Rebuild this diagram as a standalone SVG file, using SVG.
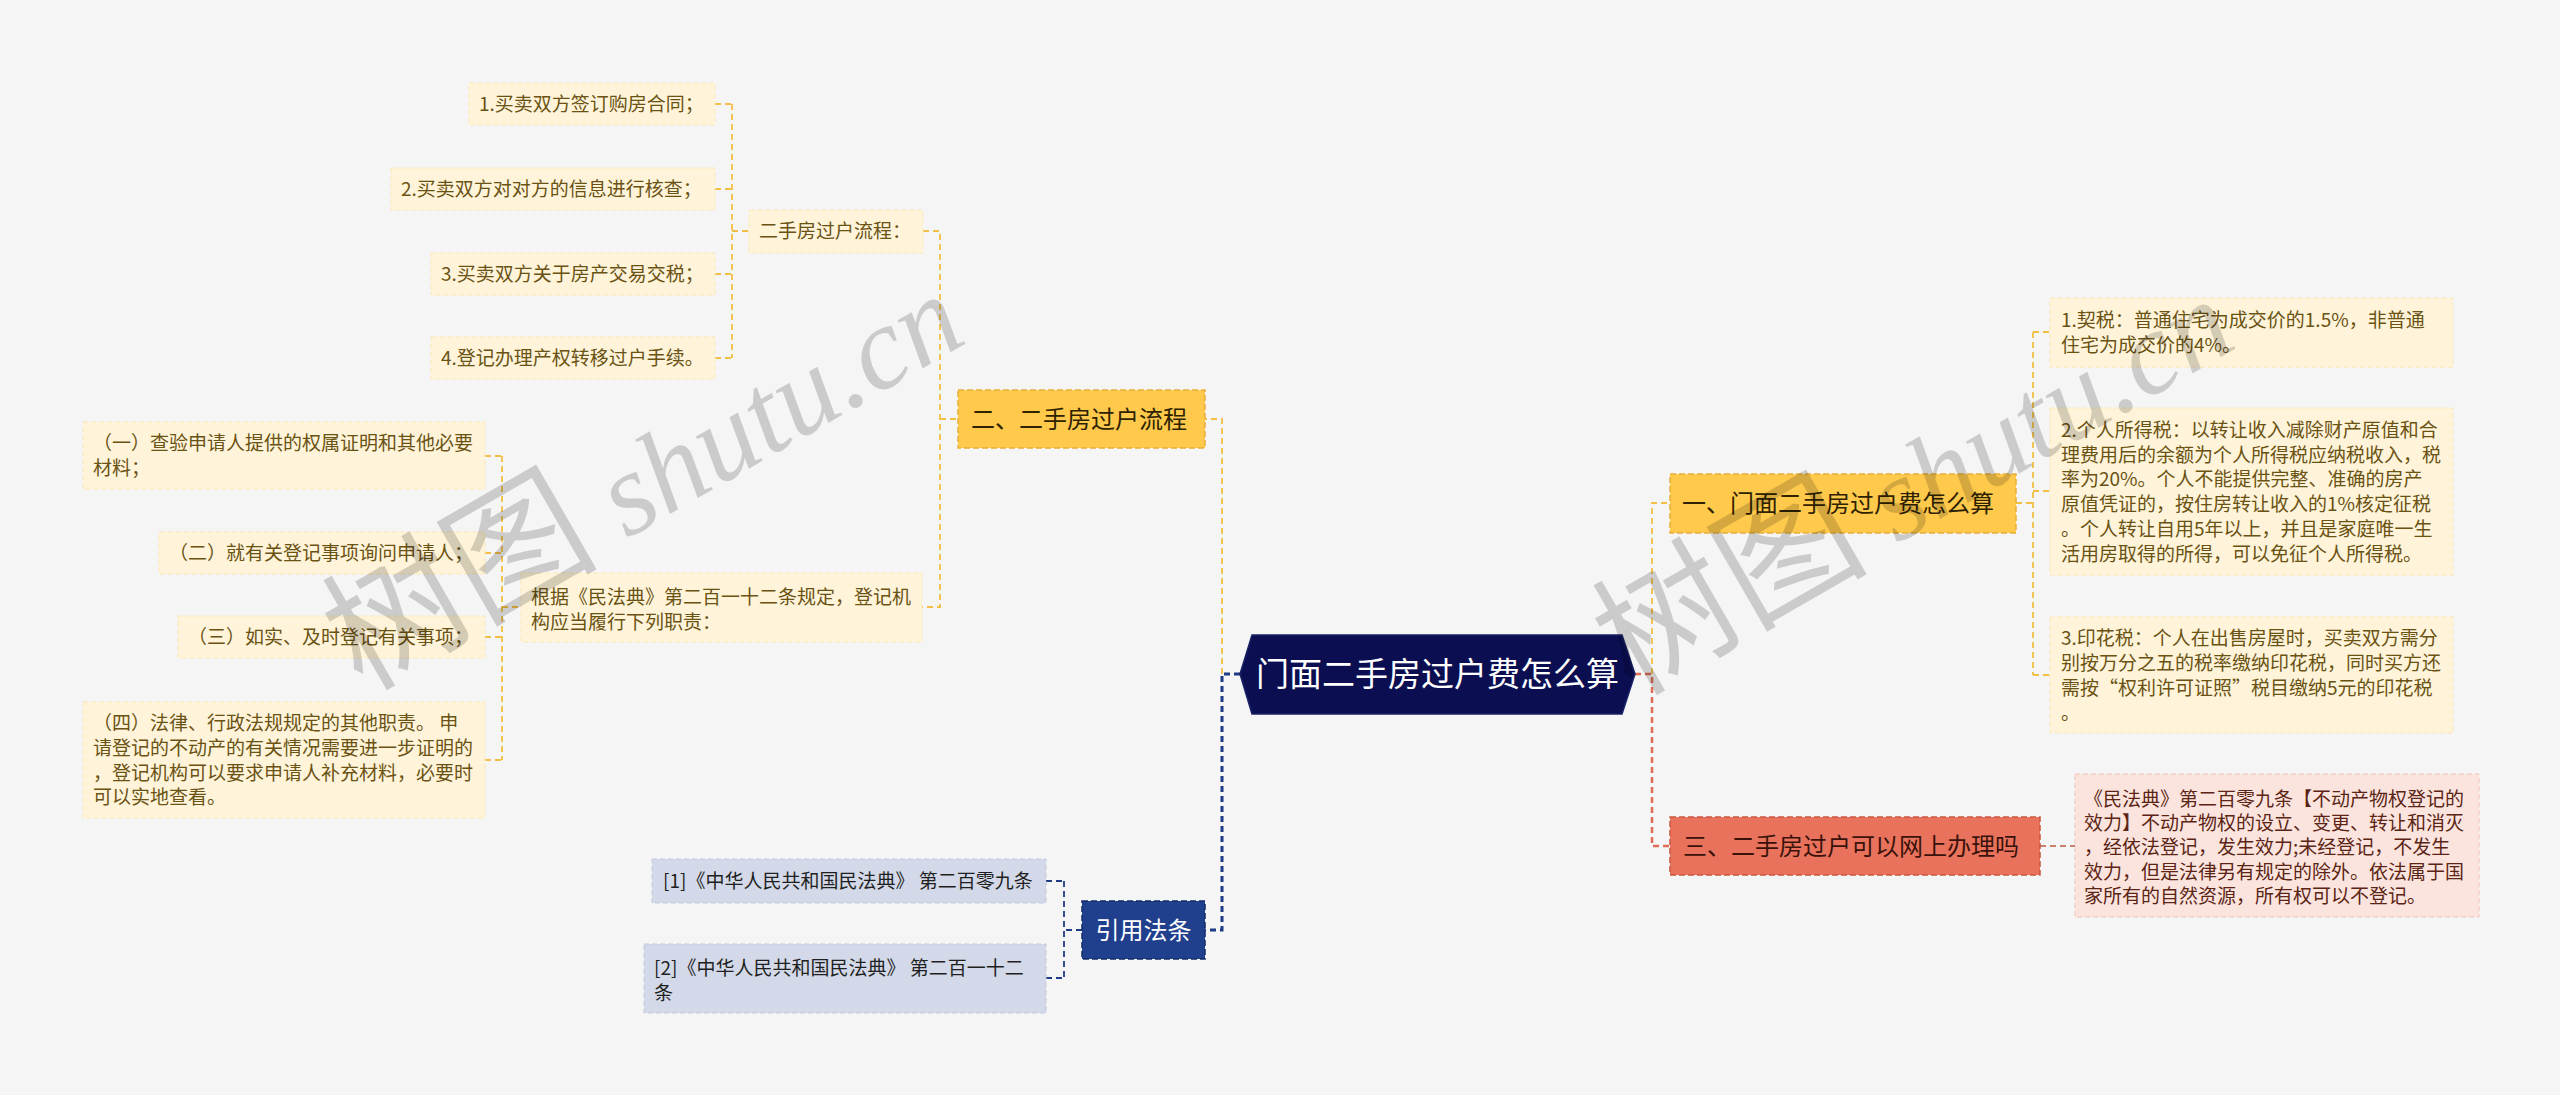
<svg xmlns="http://www.w3.org/2000/svg" width="2560" height="1095" viewBox="0 0 2560 1095">
<style>
text{font-family:"Noto Sans CJK SC","Noto Sans",sans-serif;}
.leaf{fill:#FFF4D9;stroke:#FBE7B8;stroke-width:1;stroke-dasharray:5 3;}
.lt{font-size:19px;fill:#6A5213;}
.title{fill:#FFC94C;stroke:#E9AE3A;stroke-width:1.5;stroke-dasharray:6 3;}
.tt{font-size:24px;fill:#2E2200;}
.cy{fill:none;stroke:#F2BF45;stroke-width:1.8;stroke-dasharray:6 4;}
.cb{fill:none;stroke:#1E3B86;stroke-width:3;stroke-dasharray:6 4;}
.cr{fill:none;stroke:#DE6E58;stroke-width:2.5;stroke-dasharray:6 4;}
.cp{fill:none;stroke:#C9806F;stroke-width:1.8;stroke-dasharray:6 4;}
.cn{fill:none;stroke:#1E3B86;stroke-width:1.8;stroke-dasharray:6 4;}
.cite{fill:#D3D9E8;stroke:#BFC8DD;stroke-width:1;stroke-dasharray:5 3;}
.ct{font-size:19px;fill:#1F1F1F;}
.pink{fill:#FCE4DE;stroke:#F0C2B7;stroke-width:1;stroke-dasharray:5 3;}
.pt{font-size:19px;fill:#5B2414;}
.wm{font-size:118px;fill:#000;fill-opacity:0.17;font-family:"Liberation Serif","Noto Sans CJK SC",serif;}
.wc{font-size:138px;font-family:"Noto Sans CJK SC",serif;}
</style>
<rect x="0" y="0" width="2560" height="1095" fill="#F5F5F5"/>

<g id="connectors">
  <path class="cy" d="M715,104 H732 M715,189 H732 M715,274 H732 M715,358 H732 M732,104 V358 M732,231 H749"/>
  <path class="cy" d="M923,231 H940 V607 H922 M940,419 H958"/>
  <path class="cy" d="M485,456 H502 M485,553 H502 M485,637 H502 M485,760 H502 M502,456 V760 M502,607 H521"/>
  <path class="cy" d="M1222,674 V419 H1205"/>
  <path class="cb" d="M1240,674 H1222 V930 H1205"/>
  <path class="cn" d="M1082,930 H1064 M1064,881 V978 M1046,881 H1064 M1046,978 H1064"/>
  <path class="cy" d="M1652,674 V503 H1670"/>
  <path class="cr" d="M1635,674 H1652 V846 H1670"/>
  <path class="cy" d="M2016,503 H2033 M2033,332 V675 M2033,332 H2050 M2033,491 H2050 M2033,675 H2050"/>
  <path class="cp" d="M2040,846 H2075"/>
</g>

<g id="center">
  <polygon points="1240,674 1252,635 1622,635 1635,674 1622,714 1252,714" fill="#0B0F52" stroke="#1A2266" stroke-width="1.5"/>
  <text x="1437.5" y="686" text-anchor="middle" font-size="33" fill="#FFFFFF">门面二手房过户费怎么算</text>
</g>

<g id="n-er">
  <rect class="title" x="958" y="390" width="247" height="58"/>
  <text class="tt" x="971" y="428">二、二手房过户流程</text>
</g>

<g id="n-flow">
  <rect class="leaf" x="749" y="210" width="174" height="43"/>
  <text class="lt" x="759" y="238">二手房过户流程：</text>
</g>

<g id="n-l1">
  <rect class="leaf" x="469" y="83" width="246" height="42"/>
  <text class="lt" x="479" y="111">1.买卖双方签订购房合同；</text>
</g>
<g id="n-l2">
  <rect class="leaf" x="391" y="168" width="324" height="42"/>
  <text class="lt" x="401" y="196">2.买卖双方对对方的信息进行核查；</text>
</g>
<g id="n-l3">
  <rect class="leaf" x="431" y="253" width="284" height="42"/>
  <text class="lt" x="441" y="281">3.买卖双方关于房产交易交税；</text>
</g>
<g id="n-l4">
  <rect class="leaf" x="431" y="337" width="284" height="42"/>
  <text class="lt" x="441" y="365">4.登记办理产权转移过户手续。</text>
</g>

<g id="n-genju">
  <rect class="leaf" x="521" y="573" width="401" height="69"/>
  <text class="lt" x="531" y="604">根据《民法典》第二百一十二条规定，登记机</text>
  <text class="lt" x="531" y="629">构应当履行下列职责：</text>
</g>

<g id="n-d1">
  <rect class="leaf" x="83" y="422" width="402" height="67"/>
  <text class="lt" x="93" y="450">（一）查验申请人提供的权属证明和其他必要</text>
  <text class="lt" x="93" y="475">材料；</text>
</g>
<g id="n-d2">
  <rect class="leaf" x="159" y="532" width="326" height="42"/>
  <text class="lt" x="169" y="560">（二）就有关登记事项询问申请人；</text>
</g>
<g id="n-d3">
  <rect class="leaf" x="178" y="616" width="307" height="42"/>
  <text class="lt" x="188" y="644">（三）如实、及时登记有关事项；</text>
</g>
<g id="n-d4">
  <rect class="leaf" x="83" y="702" width="402" height="116"/>
  <text class="lt" x="93" y="730">（四）法律、行政法规规定的其他职责。 申</text>
  <text class="lt" x="93" y="755">请登记的不动产的有关情况需要进一步证明的</text>
  <text class="lt" x="93" y="780">，登记机构可以要求申请人补充材料，必要时</text>
  <text class="lt" x="93" y="804">可以实地查看。</text>
</g>

<g id="n-yinyong">
  <rect x="1082" y="901" width="123" height="58" fill="#203F8C" stroke="#132B6B" stroke-width="1.5" stroke-dasharray="6 3"/>
  <text x="1143.5" y="939" text-anchor="middle" font-size="24" fill="#FFFFFF">引用法条</text>
</g>
<g id="n-c1">
  <rect class="cite" x="652" y="859" width="394" height="44"/>
  <text class="ct" x="663" y="888">[1]《中华人民共和国民法典》 第二百零九条</text>
</g>
<g id="n-c2">
  <rect class="cite" x="644" y="944" width="402" height="69"/>
  <text class="ct" x="654" y="975">[2]《中华人民共和国民法典》 第二百一十二</text>
  <text class="ct" x="654" y="1000">条</text>
</g>

<g id="n-yi">
  <rect class="title" x="1670" y="474" width="346" height="59"/>
  <text class="tt" x="1682" y="512">一、门面二手房过户费怎么算</text>
</g>
<g id="n-r1">
  <rect class="leaf" x="2050" y="298" width="403" height="69"/>
  <text class="lt" x="2061" y="327">1.契税：普通住宅为成交价的1.5%，非普通</text>
  <text class="lt" x="2061" y="352">住宅为成交价的4%。</text>
</g>
<g id="n-r2">
  <rect class="leaf" x="2050" y="408" width="403" height="167"/>
  <text class="lt" x="2061" y="437">2.个人所得税：以转让收入减除财产原值和合</text>
  <text class="lt" x="2061" y="462">理费用后的余额为个人所得税应纳税收入，税</text>
  <text class="lt" x="2061" y="486">率为20%。个人不能提供完整、准确的房产</text>
  <text class="lt" x="2061" y="511">原值凭证的，按住房转让收入的1%核定征税</text>
  <text class="lt" x="2061" y="536">。个人转让自用5年以上，并且是家庭唯一生</text>
  <text class="lt" x="2061" y="561">活用房取得的所得，可以免征个人所得税。</text>
</g>
<g id="n-r3">
  <rect class="leaf" x="2050" y="617" width="403" height="116"/>
  <text class="lt" x="2061" y="645">3.印花税：个人在出售房屋时，买卖双方需分</text>
  <text class="lt" x="2061" y="670">别按万分之五的税率缴纳印花税，同时买方还</text>
  <text class="lt" x="2061" y="695">需按“权利许可证照”税目缴纳5元的印花税</text>
  <text class="lt" x="2061" y="720">。</text>
</g>

<g id="n-san">
  <rect x="1670" y="817" width="370" height="58" fill="#E8725C" stroke="#C9573F" stroke-width="1.5" stroke-dasharray="6 3"/>
  <text x="1683" y="855" font-size="24" fill="#3A120A">三、二手房过户可以网上办理吗</text>
</g>
<g id="n-p1">
  <rect class="pink" x="2075" y="774" width="404" height="143"/>
  <text class="pt" x="2084" y="806">《民法典》第二百零九条【不动产物权登记的</text>
  <text class="pt" x="2084" y="830">效力】不动产物权的设立、变更、转让和消灭</text>
  <text class="pt" x="2084" y="854">，经依法登记，发生效力;未经登记，不发生</text>
  <text class="pt" x="2084" y="879">效力，但是法律另有规定的除外。依法属于国</text>
  <text class="pt" x="2084" y="903">家所有的自然资源，所有权可以不登记。</text>
</g>

<g id="watermarks">
  <text class="wm" x="362" y="692" transform="rotate(-30 362 692)"><tspan class="wc">树图</tspan> <tspan font-style="italic">shutu.cn</tspan></text>
  <text class="wm" x="1632" y="697" transform="rotate(-30 1632 697)"><tspan class="wc">树图</tspan> <tspan font-style="italic">shutu.cn</tspan></text>
</g>
</svg>
